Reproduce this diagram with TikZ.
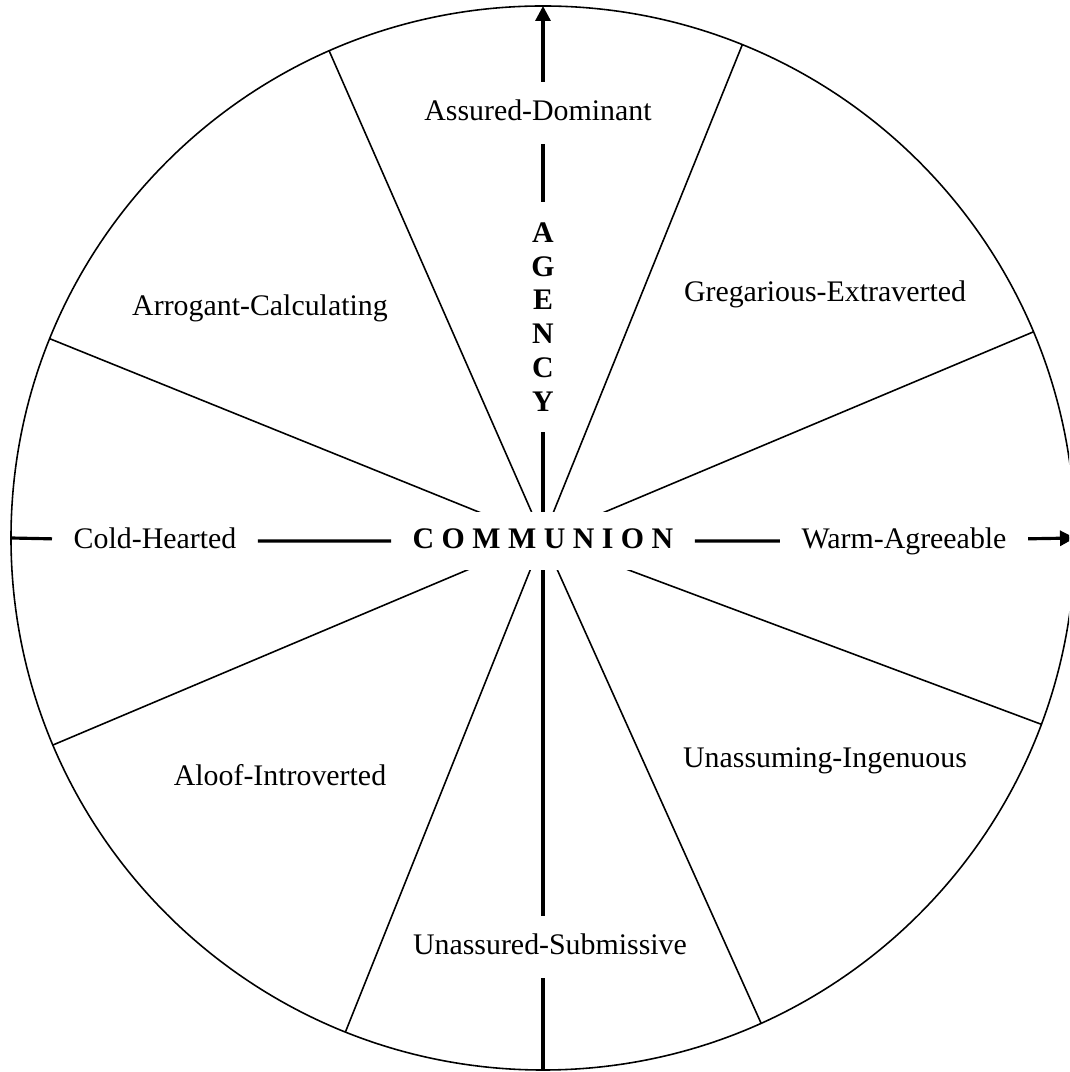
\documentclass[tikz,border=0pt]{standalone}
\usepackage{fontspec}
\setmainfont{Liberation Serif}
\usetikzlibrary{arrows.meta}

\begin{document}
\begin{tikzpicture}[
    spoke/.style={line width=0.45pt},
    axis/.style={line width=0.9pt},
    axisarrow/.style={axis,-{Triangle[length=0.15cm,width=0.15cm]}},
    lbl/.style={inner xsep=0.21cm,inner ysep=0.14cm,
      text height=0.7em,text depth=0.25em,font=\fontsize{8.5}{10.2}\selectfont}
  ]
      \useasboundingbox (-5.43,-5.34) rectangle (5.26,5.38);
      \begin{scope}
      \clip (-5.43,-5.34) rectangle (5.26,5.38);
      % Circle and sectors
      \coordinate (o) at (0,0);
      \draw[spoke] (o) circle (5.32);
      \foreach \a in {22.8,68,113.7,158,202.9,248.2,294.2,339.5}
        \draw[spoke] (o) -- (\a:5.32);
      % Axis ends
      \coordinate (west) at (-5.32,0);
      \coordinate (east) at (5.32,0);
      \coordinate (top) at (0,5.32);
      \coordinate (bottom) at (0,-5.32);
      % Labels
      \node[lbl] (dom) at (-0.05,4.25) {Assured-Dominant};
      \node[lbl] (arr) at (-2.83,2.30) {Arrogant-Calculating};
      \node[lbl] (greg) at (2.82,2.44) {Gregarious-Extraverted};
      \node[lbl] (cold) at (-3.88,-0.03) {Cold-Hearted};
      \node[lbl] (warm) at (3.61,-0.03) {Warm-Agreeable};
      \node[lbl] (aloof) at (-2.63,-2.40) {Aloof-Introverted};
      \node[lbl] (ingen) at (2.82,-2.22) {Unassuming-Ingenuous};
      \node[lbl] (sub) at (0.07,-4.09) {Unassured-Submissive};
      \node[lbl,fill=white,inner ysep=0.12cm,font=\fontsize{8.5}{10.2}\selectfont\bfseries] (comm) at (0,-0.03) {C O M M U N I O N};
      \node[inner xsep=0.08cm,inner ysep=0.2cm,align=center,
        font=\fontsize{8.5}{9.64}\selectfont\bfseries] (agency) at (0,2.21) {A\\G\\E\\N\\C\\Y};
      % Axes
      \draw[axisarrow] (west) -- (cold) -- (comm) -- (warm) -- (east);
      \draw[axisarrow] (bottom) -- (bottom |- sub.south) (bottom |- sub.north) -- (comm)
        (comm) -- (agency) -- (top |- dom.south) (top |- dom.north) -- (top);
      \end{scope}
    \end{tikzpicture}
\end{document}
